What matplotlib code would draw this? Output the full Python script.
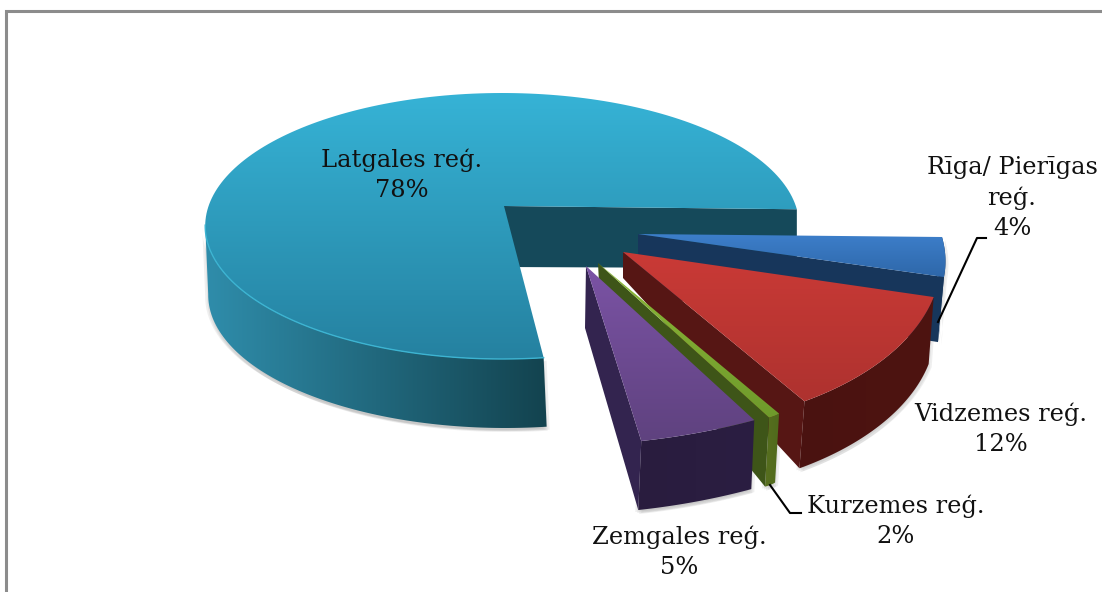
import numpy as np
import matplotlib
matplotlib.use("Agg")
import matplotlib.pyplot as plt
from matplotlib.colors import to_rgb
from matplotlib.patches import Polygon

# clockwise from the right-hand side of the pie
nosaukumi = ["Rīga/ Pierīgas\nreģ.", "Vidzemes reģ.", "Kurzemes reģ.", "Zemgales reģ.", "Latgales reģ."]
vertibas = [4, 12, 2, 5, 78]

# screen layout of each exploded slice: apex, rim ellipse, wall depths
izkartojums = [
    dict(ax=638, ay=234, ox=0, oy=0, rx=304, kx=46, ky=3, ry=163, apex_d=(0, 60), rim_d=(-6, 65), sk=1),
    dict(ax=623, ay=252, ox=0, oy=0, rx=318, kx=10, ky=1.5, ry=177, apex_d=(0, 26), rim_d=(-5, 67), sk=1),
    dict(ax=598, ay=263, ox=0, oy=0, rx=157, kx=114, ky=47, ry=149, apex_d=(1, 20), rim_d=(-4, 69), sk=1),
    dict(ax=586, ay=266, ox=0, oy=0, rx=382, kx=2, ky=-16, ry=179, apex_d=(-1, 62), rim_d=(-3, 69), sk=1),
    dict(ax=504, ay=206, ox=-1.8, oy=20, rx=297, kx=0, ky=0, ry=133, apex_d=(0, 61), rim_d=(3, 69), sk=0.974),
]

# top face (top, bottom), rim wall (left, right), cut wall
krasas = [
    (("#3D7FCB", "#2E67A9"), ("#1D4270", "#17365B"), "#17365B"),
    (("#CA3A36", "#AE322F"), ("#4A1210", "#4E1411"), "#561614"),
    (("#8CB838", "#6F9A2B"), ("#586F1F", "#4F6A1C"), "#3E5518"),
    (("#7B53A5", "#5F427F"), ("#291C3E", "#2B1E42"), "#33244F"),
    (("#36B3D6", "#2581A0"), ("#2F8DAB", "#13434F"), "#15495A"),
]

etiketes = [(1012, 198), (1001, 429), (896, 521), (679, 552), (402, 175)]

# the big slice goes under the exploded ones
seciba = [4, 0, 1, 2, 3]


def rim(s, leni, sak):
    leni = np.radians(sak + (leni - sak) * s["sk"])
    x = s["ax"] + s["ox"] + s["rx"] * np.cos(leni) + s["kx"] * np.sin(leni)
    y = s["ay"] + s["oy"] + s["ky"] * np.cos(leni) + s["ry"] * np.sin(leni)
    return np.column_stack([x, y])


def gradient(ax, pts, c1, c2, vertical, z):
    rinda = np.linspace(to_rgb(c1), to_rgb(c2), 256)
    img = rinda[:, None, :] if vertical else rinda[None, :, :]
    x0, y0 = pts.min(axis=0)
    x1, y1 = pts.max(axis=0)
    im = ax.imshow(img, extent=(x0, x1, y1, y0), origin="upper", aspect="auto", zorder=z)
    robeza = Polygon(pts, closed=True, fc="none", ec="none", transform=ax.transData)
    ax.add_patch(robeza)
    im.set_clip_path(robeza)


fig = plt.figure(figsize=(11.02, 5.92), dpi=100)
ax = fig.add_axes([0, 0, 1, 1])

leni = np.concatenate([[0], np.cumsum(vertibas) / np.sum(vertibas) * 360])

for k, i in enumerate(seciba):
    s = izkartojums[i]
    sak, bei = leni[i], leni[i + 1]
    virsa, sans, griezums = krasas[i]
    z = 3 + k * 3
    liels = bei - sak > 180
    apex = np.array([[s["ax"], s["ay"]]], dtype=float)
    apex_d = np.array(s["apex_d"], dtype=float)
    rim_d = np.array(s["rim_d"], dtype=float)

    # the big slice only shows its wall along the front half
    sienas_beigas = 183 if liels else bei
    loks = rim(s, np.linspace(sak, sienas_beigas, 80), sak)
    siena = np.vstack([loks, (loks + rim_d)[::-1]])

    for nob in [(-3, 2), (-1, 3), (1, 4), (3, 3)]:
        ax.add_patch(Polygon(siena + nob, closed=True, fc="#555555", ec="none", alpha=0.09, zorder=1))

    gradient(ax, siena, sans[0], sans[1], False, z)

    # cut wall towards the viewer: end angle of the slice
    gals = rim(s, np.array([bei]), sak)
    griez = np.vstack([apex, gals, gals + (0, 59) if liels else gals + rim_d, apex + apex_d])
    ax.add_patch(Polygon(griez, closed=True, fc=griezums, ec="none", zorder=z + 1))

    seja = np.vstack([apex, rim(s, np.linspace(sak, bei, 200), sak)])
    gradient(ax, seja, virsa[0], virsa[1], True, z + 2)

    if liels:
        ax.plot(*loks.T, color="#3CB4D2", lw=1, zorder=z + 2.5)

# frame of the chart area
ax.plot([6, 6, 1102], [592, 11, 11], color="#8C8C8C", lw=2.2, zorder=30, solid_joinstyle="miter")

# leader lines
ax.plot([986, 977, 938], [238, 238, 322], color="black", lw=1.5, zorder=30)
ax.plot([770, 790, 801], [485, 513, 513], color="black", lw=1.5, zorder=30)

for nos, v, poz in zip(nosaukumi, vertibas, etiketes):
    ax.text(poz[0], poz[1], f"{nos}\n{v}%", ha="center", va="center", family="DejaVu Serif",
            fontsize=17.4, linespacing=1.37, color="#111111", zorder=31)

ax.set_xlim(0, 1102)
ax.set_ylim(592, 0)
ax.axis("off")

fig.savefig("out.png", dpi=100)
